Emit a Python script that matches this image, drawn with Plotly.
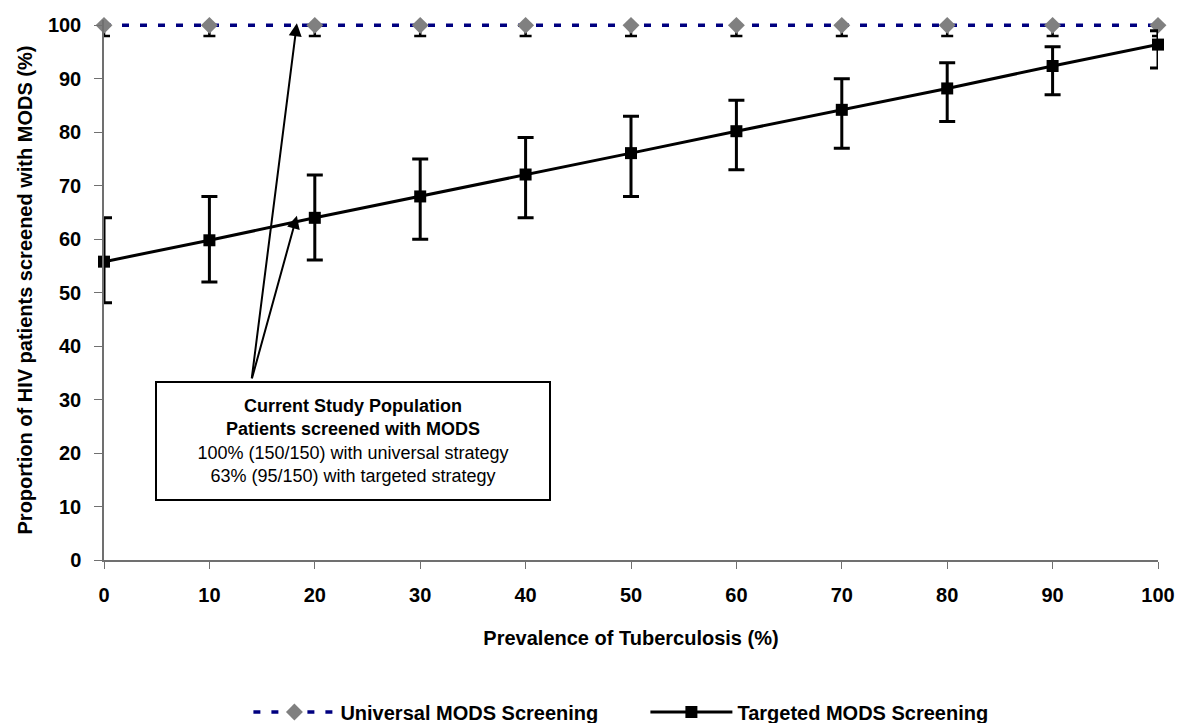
import plotly.graph_objects as go

# Prevalence of tuberculosis (%)
prevalence = [0, 10, 20, 30, 40, 50, 60, 70, 80, 90, 100]

# Universal screening: every patient screened
universal = [100] * 11
universal_low = [98] * 11

# Targeted screening: point estimate with lower / upper limits
targeted = [55.8, 59.8, 64.0, 68.0, 72.1, 76.1, 80.2, 84.2, 88.2, 92.4, 96.4]
targeted_low = [48.1, 52.0, 56.1, 60.0, 64.0, 68.0, 73.0, 77.0, 82.0, 87.0, 92.0]
targeted_high = [64.0, 68.0, 72.0, 75.0, 79.0, 83.0, 86.0, 90.0, 93.0, 96.0, 99.0]

y_ticks = [0, 10, 20, 30, 40, 50, 60, 70, 80, 90, 100]
x_ticks = [0, 10, 20, 30, 40, 50, 60, 70, 80, 90, 100]

FONT = "Liberation Sans, Arial, sans-serif"

fig = go.Figure()

fig.add_trace(go.Scatter(
    x=prevalence, y=universal,
    name="<b>Universal MODS Screening</b>",
    mode="lines+markers",
    line=dict(color="#000080", width=3.5, dash="7px,11px"),
    marker=dict(symbol="diamond", size=13, color="#808080"),
    error_y=dict(type="data", symmetric=False,
                 array=[u - u for u in universal],
                 arrayminus=[u - l for u, l in zip(universal, universal_low)],
                 color="black", thickness=2.5, width=6),
    cliponaxis=False,
))

fig.add_trace(go.Scatter(
    x=prevalence, y=targeted,
    name="<b>Targeted MODS Screening</b>",
    mode="lines+markers",
    line=dict(color="black", width=3),
    marker=dict(symbol="square", size=12, color="black"),
    error_y=dict(type="data", symmetric=False,
                 array=[h - t for h, t in zip(targeted_high, targeted)],
                 arrayminus=[t - l for t, l in zip(targeted, targeted_low)],
                 color="black", thickness=3, width=8),
    cliponaxis=False,
))

# Callout box describing the study population
fig.add_annotation(
    x=23.6, y=22.3, xref="x", yref="y",
    text=("<b>Current Study Population</b><br>"
          "<b>Patients screened with MODS</b><br>"
          "100% (150/150) with universal strategy<br>"
          "63% (95/150) with targeted strategy"),
    showarrow=False, align="center",
    font=dict(family=FONT, size=18, color="black"),
    bordercolor="black", borderwidth=2, borderpad=0,
    bgcolor="white", width=392, height=116,
    xanchor="center", yanchor="middle",
)

# Arrows from the callout to the two strategies
for hx, hy in [(18.3, 100.4), (18.3, 64.4)]:
    fig.add_annotation(
        x=hx, y=hy, ax=14.0, ay=33.7,
        xref="x", yref="y", axref="x", ayref="y",
        text="", showarrow=True,
        arrowhead=2, arrowsize=1.3, arrowwidth=2, arrowcolor="black",
        standoff=0, startstandoff=0,
    )

fig.update_layout(
    width=1179, height=723,
    margin=dict(l=104, r=21, t=20, b=163, autoexpand=False),
    paper_bgcolor="white", plot_bgcolor="white",
    font=dict(family=FONT, size=20, color="black"),
    showlegend=True,
    legend=dict(orientation="h", x=0.137, xanchor="left", y=-0.2815, yanchor="middle",
                font=dict(family=FONT, size=20, color="black"),
                itemwidth=82, entrywidth=300, traceorder="normal"),
)

fig.update_xaxes(
    range=[0, 100], tickvals=x_ticks, ticktext=[f"<b>{v}</b>" for v in x_ticks],
    showline=True, linecolor="#707070", linewidth=1.5,
    ticks="outside", ticklen=7, tickcolor="#707070", tickwidth=1.2,
    ticklabelstandoff=9,
    showgrid=False, zeroline=False,
    tickfont=dict(family=FONT, size=20, color="black"),
    title=dict(text="<b>Prevalence of Tuberculosis (%)</b>",
               font=dict(family=FONT, size=20, color="black"), standoff=26),
)
fig.update_yaxes(
    range=[0, 101], tickvals=y_ticks, ticktext=[f"<b>{v}</b>" for v in y_ticks],
    showline=True, linecolor="#707070", linewidth=1.5,
    ticks="outside", ticklen=8, tickcolor="#707070", tickwidth=1.2,
    ticklabelstandoff=9,
    showgrid=False, zeroline=False,
    tickfont=dict(family=FONT, size=20, color="black"),
    title=dict(text="<b>Proportion of HIV patients screened with MODS (%)</b>",
               font=dict(family=FONT, size=20, color="black"), standoff=10),
)

fig.write_html("out.html")
